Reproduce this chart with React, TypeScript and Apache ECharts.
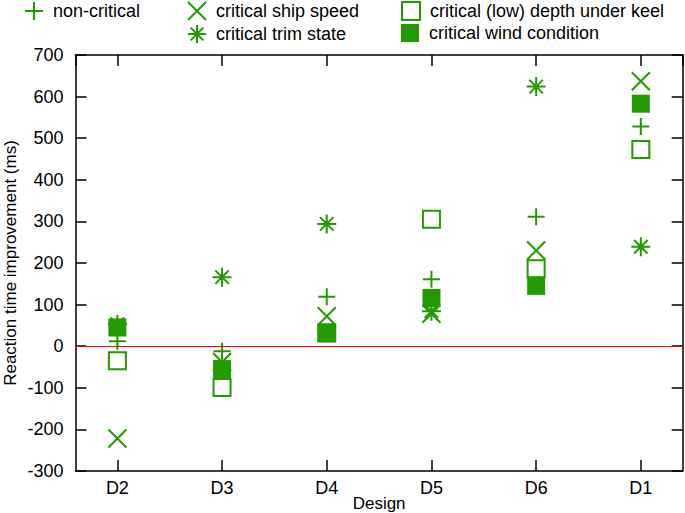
import React, { useEffect, useRef } from "react";
import * as echarts from "echarts";

const categories = ["D2", "D3", "D4", "D5", "D6", "D1"];
const nonCritical = [12, -12, 119, 161, 311, 528];
const shipSpeed = [-222, -38, 72, 78, 230, 637];
const trimState = [53, 166, 294, 84, 624, 239];
const depthUnderKeel = [-35, -99, 32, 305, 186, 473];
const windCondition = [45, -55, 33, 116, 145, 583];
const yTicks = { min: -300, max: 700, step: 100 };

const GREEN = "#229a00";
const FONT = "Liberation Sans, Arial, sans-serif";

const PLUS = "path://M0,8 L16,8 M8,0 L8,16";
const CROSS = "path://M0,0 L18,18 M18,0 L0,18";
const STAR = "path://M0,9 L18,9 M9,0 L9,18 M2.6,2.6 L15.4,15.4 M15.4,2.6 L2.6,15.4";
const SQUARE = "path://M0,0 L10,0 L10,10 L0,10 Z";

const toPoints = (vals: number[]) => vals.map((v, i) => [i + 1, v]);

export default function App() {
  const ref = useRef<HTMLDivElement>(null);
  useEffect(() => {
    if (!ref.current) return;
    const chart = echarts.init(ref.current, undefined, { renderer: "svg" });
    const strokeStyle = { color: "transparent", borderColor: GREEN, borderWidth: 2, opacity: 1 };
    const legendBase = {
      padding: 0,
      itemWidth: 28,
      itemHeight: 18,
      selectedMode: false,
      textStyle: { fontSize: 18, fontFamily: FONT, color: "#000" },
    };
    const axisLine = { show: true, onZero: false, lineStyle: { color: "#000", width: 1.5 } };
    const tick = { show: true, inside: true, length: 11, lineStyle: { color: "#000", width: 1.5 } };
    chart.setOption({
      animation: false,
      backgroundColor: "#fff",
      textStyle: { fontFamily: FONT },
      legend: [
        { ...legendBase, data: ["non-critical"], left: 24, top: 1 },
        { ...legendBase, data: ["critical ship speed"], left: 187, top: 1 },
        { ...legendBase, data: ["critical (low) depth under keel"], left: 401, top: 1 },
        { ...legendBase, data: ["critical trim state"], left: 187, top: 24 },
        { ...legendBase, data: ["critical wind condition"], left: 401, top: 24 },
      ],
      grid: { left: 75.5, right: 2.3, top: 55, bottom: 42, containLabel: false, outerBoundsMode: "none" },
      xAxis: [
        {
          type: "value",
          min: 0.6,
          max: 6.4,
          splitNumber: 6,
          name: "Design",
          nameLocation: "middle",
          nameGap: 23,
          nameMoveOverlap: false,
          nameTextStyle: { fontSize: 17, fontFamily: FONT, color: "#000", lineHeight: 18 },
          axisLine,
          axisTick: tick,
          splitLine: { show: false },
          axisLabel: {
            showMinLabel: false,
            showMaxLabel: false,
            margin: 8,
            fontSize: 18,
            fontFamily: FONT,
            color: "#000",
            formatter: (v: number) => {
              const i = Math.round(v) - 1;
              return Math.abs(v - Math.round(v)) < 1e-6 && categories[i] ? categories[i] : "";
            },
          },
        },
        {
          type: "value",
          position: "top",
          min: 0.6,
          max: 6.4,
          splitNumber: 6,
          axisLine,
          axisTick: tick,
          axisLabel: { show: false },
          splitLine: { show: false },
        },
      ],
      yAxis: [
        {
          type: "value",
          min: yTicks.min,
          max: yTicks.max,
          interval: yTicks.step,
          name: "Reaction time improvement (ms)",
          nameLocation: "middle",
          nameGap: 56,
          nameMoveOverlap: false,
          nameTextStyle: { fontSize: 17, fontFamily: FONT, color: "#000", lineHeight: 18 },
          axisLine,
          axisTick: tick,
          splitLine: { show: false },
          axisLabel: { margin: 12, fontSize: 18, fontFamily: FONT, color: "#000" },
        },
        {
          type: "value",
          position: "right",
          min: yTicks.min,
          max: yTicks.max,
          interval: yTicks.step,
          axisLine,
          axisTick: tick,
          axisLabel: { show: false },
          splitLine: { show: false },
        },
      ],
      series: [
        {
          name: "non-critical",
          type: "scatter",
          symbol: PLUS,
          symbolSize: 17,
          itemStyle: strokeStyle,
          data: toPoints(nonCritical),
          markLine: {
            silent: true,
            symbol: "none",
            label: { show: false },
            lineStyle: { color: "#ff0000", width: 1.2, type: "solid", opacity: 1 },
            data: [{ yAxis: 0 }],
          },
        },
        {
          name: "critical ship speed",
          type: "scatter",
          symbol: CROSS,
          symbolSize: 18,
          itemStyle: strokeStyle,
          data: toPoints(shipSpeed),
        },
        {
          name: "critical trim state",
          type: "scatter",
          symbol: STAR,
          symbolSize: 19,
          itemStyle: strokeStyle,
          data: toPoints(trimState),
        },
        {
          name: "critical (low) depth under keel",
          type: "scatter",
          symbol: SQUARE,
          symbolSize: 17,
          itemStyle: { color: "#fff", borderColor: GREEN, borderWidth: 2, opacity: 1 },
          data: toPoints(depthUnderKeel),
        },
        {
          name: "critical wind condition",
          type: "scatter",
          symbol: SQUARE,
          symbolSize: 18,
          itemStyle: { color: GREEN, borderWidth: 0, opacity: 1 },
          data: toPoints(windCondition),
        },
      ],
    });
    return () => chart.dispose();
  }, []);
  return <div ref={ref} style={{ width: 685, height: 513, position: "absolute", left: 0, top: 0 }} />;
}
